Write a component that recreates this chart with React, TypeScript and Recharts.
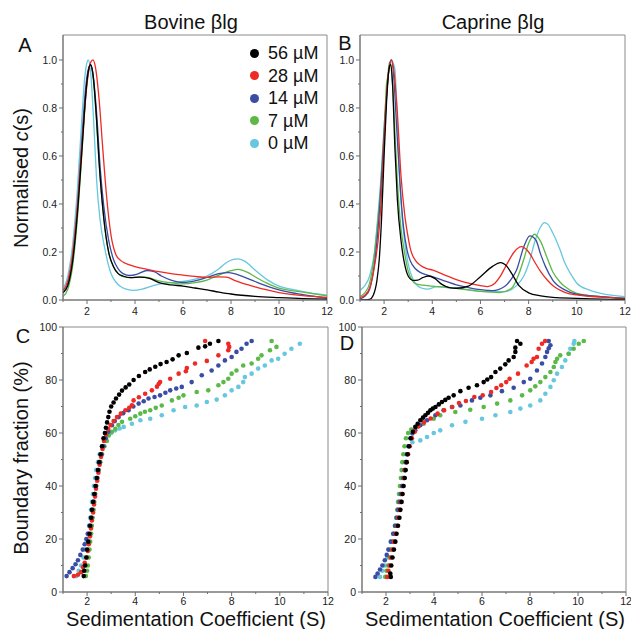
import React from "react";
import { LineChart, Line, ScatterChart, Scatter, XAxis, YAxis, ReferenceArea } from "recharts";

const FONT = "'Liberation Sans', Arial, Helvetica, sans-serif";
const AXIS = "#6e6e6e";
const FRAME = "#8a8a8a";

const concLabels = ["56 µM", "28 µM", "14 µM", "7 µM", "0 µM"];
const COLORS = ["#000000", "#ee2a24", "#3a4ca3", "#5cb947", "#66c7de"];

const sTicks = [1, 2, 3, 4, 5, 6, 7, 8, 9, 10, 11, 12];
const cTicks = [0, 0.1, 0.2, 0.3, 0.4, 0.5, 0.6, 0.7, 0.8, 0.9, 1.0];
const bTicks = [0, 10, 20, 30, 40, 50, 60, 70, 80, 90, 100];

type P = [number, number];

// Panel A: bovine c(s)
const bovine56: P[] = [[1,0.03],[1.2,0.06],[1.4,0.16],[1.6,0.36],[1.8,0.64],[1.95,0.86],[2.05,0.95],[2.15,0.98],[2.25,0.94],[2.4,0.75],[2.5,0.58],[2.7,0.34],[2.9,0.2],[3.1,0.14],[3.3,0.11],[3.5,0.1],[3.8,0.093],[4.2,0.095],[4.6,0.09],[5,0.072],[5.5,0.063],[6,0.058],[6.5,0.05],[7,0.042],[7.5,0.033],[8,0.025],[9,0.015],[10,0.01],[11,0.006],[12,0.004]];
const bovine28: P[] = [[1,0.04],[1.2,0.08],[1.4,0.19],[1.6,0.39],[1.8,0.66],[2.0,0.9],[2.15,0.99],[2.25,1.0],[2.35,0.97],[2.5,0.84],[2.65,0.64],[2.8,0.45],[3.0,0.27],[3.2,0.19],[3.4,0.165],[3.6,0.153],[3.8,0.145],[4.0,0.139],[4.5,0.128],[5,0.118],[5.5,0.11],[6,0.104],[6.5,0.098],[7,0.094],[7.5,0.096],[7.8,0.095],[8.2,0.08],[8.6,0.066],[9,0.055],[9.5,0.042],[10,0.031],[11,0.018],[12,0.011]];
const bovine14: P[] = [[1,0.03],[1.2,0.07],[1.4,0.18],[1.6,0.39],[1.8,0.69],[1.95,0.89],[2.05,0.96],[2.15,0.98],[2.25,0.94],[2.4,0.78],[2.55,0.55],[2.7,0.39],[2.9,0.25],[3.1,0.17],[3.3,0.13],[3.5,0.11],[3.8,0.102],[4.1,0.108],[4.5,0.123],[4.8,0.118],[5.1,0.1],[5.5,0.083],[6,0.073],[6.5,0.08],[7,0.094],[7.5,0.11],[7.9,0.114],[8.5,0.097],[9,0.077],[9.5,0.058],[10,0.042],[11,0.022],[12,0.008]];
const bovine7: P[] = [[1,0.015],[1.2,0.045],[1.4,0.14],[1.6,0.34],[1.8,0.63],[1.95,0.85],[2.05,0.95],[2.15,0.98],[2.25,0.93],[2.4,0.74],[2.5,0.58],[2.7,0.34],[2.9,0.2],[3.1,0.14],[3.3,0.11],[3.5,0.097],[3.8,0.093],[4.2,0.096],[4.5,0.094],[5,0.08],[5.5,0.072],[6,0.067],[6.5,0.072],[7,0.083],[7.5,0.104],[8,0.122],[8.3,0.128],[8.7,0.115],[9,0.097],[9.5,0.07],[10,0.049],[11,0.033],[12,0.017]];
const bovine0: P[] = [[1,0.045],[1.2,0.1],[1.4,0.23],[1.6,0.46],[1.8,0.78],[1.9,0.92],[2.0,0.99],[2.05,1.0],[2.15,0.95],[2.3,0.7],[2.4,0.5],[2.55,0.33],[2.75,0.21],[3.0,0.11],[3.2,0.075],[3.4,0.056],[3.6,0.046],[3.9,0.04],[4.3,0.045],[4.7,0.058],[5,0.066],[5.5,0.072],[6,0.077],[6.5,0.087],[7,0.1],[7.5,0.13],[7.8,0.155],[8.1,0.169],[8.3,0.171],[8.6,0.16],[9,0.125],[9.5,0.085],[10,0.058],[10.5,0.045],[11,0.035],[12,0.02]];

// Panel B: caprine c(s)
const caprine56: P[] = [[1,0],[1.4,0.003],[1.55,0.02],[1.7,0.08],[1.8,0.17],[1.9,0.35],[2.0,0.6],[2.1,0.82],[2.2,0.96],[2.27,0.98],[2.35,0.9],[2.45,0.63],[2.55,0.42],[2.7,0.25],[2.85,0.15],[3.0,0.1],[3.2,0.082],[3.4,0.083],[3.6,0.093],[3.85,0.1],[4.1,0.09],[4.4,0.065],[4.7,0.052],[5,0.049],[5.5,0.058],[6,0.097],[6.5,0.14],[6.83,0.156],[7.1,0.14],[7.3,0.11],[7.6,0.06],[8,0.03],[8.5,0.017],[9,0.011],[10,0.007],[11,0.004],[12,0.003]];
const caprine28: P[] = [[1,0.01],[1.2,0.02],[1.4,0.05],[1.6,0.14],[1.8,0.3],[1.9,0.46],[2.0,0.66],[2.1,0.85],[2.2,0.96],[2.3,1.0],[2.4,0.96],[2.55,0.78],[2.7,0.52],[2.85,0.36],[3.0,0.26],[3.1,0.21],[3.3,0.165],[3.5,0.145],[3.8,0.13],[4,0.125],[4.5,0.105],[5,0.085],[5.5,0.07],[6,0.06],[6.3,0.056],[6.6,0.07],[6.8,0.095],[7.1,0.15],[7.4,0.2],[7.7,0.222],[8,0.2],[8.3,0.15],[8.5,0.118],[8.8,0.08],[9,0.06],[9.5,0.032],[10,0.021],[11,0.012],[12,0.007]];
const caprine14: P[] = [[1,0.005],[1.2,0.015],[1.4,0.045],[1.6,0.15],[1.8,0.36],[1.95,0.6],[2.05,0.77],[2.15,0.91],[2.25,0.99],[2.3,1.0],[2.4,0.93],[2.5,0.76],[2.65,0.5],[2.8,0.31],[2.95,0.21],[3.1,0.16],[3.3,0.13],[3.5,0.115],[3.8,0.104],[4,0.097],[4.5,0.08],[5,0.063],[5.5,0.052],[6,0.043],[6.5,0.039],[7,0.056],[7.3,0.09],[7.5,0.125],[7.8,0.222],[8.05,0.267],[8.3,0.25],[8.5,0.19],[8.7,0.139],[9,0.083],[9.5,0.042],[10,0.024],[11,0.014],[12,0.007]];
const caprine7: P[] = [[1,0.015],[1.2,0.03],[1.4,0.07],[1.6,0.19],[1.75,0.34],[1.85,0.46],[1.95,0.62],[2.05,0.8],[2.1,0.9],[2.15,0.93],[2.22,0.99],[2.28,0.98],[2.35,0.9],[2.45,0.7],[2.55,0.5],[2.7,0.3],[2.83,0.21],[3.0,0.12],[3.15,0.085],[3.3,0.068],[3.6,0.062],[4,0.058],[5,0.049],[6,0.036],[6.8,0.031],[7.3,0.05],[7.6,0.11],[7.8,0.17],[8,0.236],[8.25,0.274],[8.5,0.243],[8.75,0.18],[9,0.118],[9.3,0.075],[9.5,0.056],[10,0.028],[11,0.014],[12,0.007]];
const caprine0: P[] = [[1,0.04],[1.2,0.06],[1.4,0.1],[1.6,0.2],[1.75,0.36],[1.85,0.48],[1.95,0.64],[2.05,0.8],[2.15,0.92],[2.25,0.99],[2.3,1.0],[2.4,0.98],[2.45,0.96],[2.55,0.75],[2.65,0.5],[2.75,0.34],[2.9,0.21],[3.0,0.15],[3.2,0.085],[3.4,0.058],[3.55,0.05],[3.8,0.045],[4.2,0.056],[4.6,0.052],[5,0.049],[6,0.036],[7,0.035],[7.5,0.06],[7.8,0.1],[8,0.15],[8.3,0.257],[8.5,0.305],[8.65,0.322],[8.8,0.315],[9,0.28],[9.3,0.21],[9.5,0.155],[9.8,0.1],[10,0.07],[10.5,0.042],[11,0.028],[12,0.014]];

// Panel C: bovine boundary fraction
const bovineBf56: P[] = [[1.86,6],[1.88,8],[1.92,10],[1.97,13],[2.0,16],[2.05,19],[2.1,22],[2.13,25],[2.17,28],[2.2,31],[2.25,34],[2.3,37],[2.35,40],[2.4,43],[2.45,46],[2.5,49],[2.56,52],[2.62,55],[2.68,58],[2.74,60],[2.78,62],[2.83,64],[2.88,66],[2.93,68],[3.0,70],[3.1,71.5],[3.2,73],[3.33,74.5],[3.45,76],[3.6,77.2],[3.75,78.3],[3.93,80],[4.15,81.5],[4.41,83],[4.6,84],[4.83,85],[5.05,86],[5.3,86.8],[5.55,87.8],[5.8,89.3],[6.14,90.2],[6.62,92.2],[6.9,92.7],[7.1,93.7],[7.45,94.7]];
const bovineBf28: P[] = [[1.45,6],[1.62,6.5],[1.75,7.5],[1.83,9.4],[1.9,11],[1.97,13],[2.03,15.5],[2.07,18],[2.12,21],[2.16,24],[2.2,27],[2.25,30],[2.29,33],[2.33,36],[2.37,39],[2.42,42],[2.47,45],[2.52,48],[2.58,51],[2.64,54],[2.7,57],[2.78,59.5],[2.88,61.5],[2.97,63],[3.1,64.5],[3.24,66],[3.4,67.3],[3.59,68.6],[3.75,69.5],[3.86,70.5],[3.93,72.3],[4.15,73.5],[4.41,74.8],[4.69,76.1],[4.9,77.5],[4.97,78.5],[5.03,79.2],[5.45,80.5],[5.8,82.4],[6.1,83.3],[6.14,84.5],[6.48,86.2],[6.97,87.2],[7.45,89.3],[7.86,91.2],[7.9,92.5],[7.86,93.7],[6.9,94.7]];
const bovineBf14: P[] = [[1.15,6],[1.27,7.5],[1.4,9],[1.52,10.5],[1.62,12],[1.72,14],[1.82,16],[1.9,18],[1.97,20],[2.03,22],[2.1,25],[2.17,28],[2.22,31],[2.27,34],[2.32,37],[2.37,40],[2.42,43],[2.47,46],[2.53,49],[2.6,52],[2.68,55],[2.77,58],[2.88,60.5],[3.03,62.9],[3.15,64.5],[3.31,66],[3.5,67.5],[3.72,68.6],[3.92,70],[4.14,71.1],[4.35,72],[4.55,73],[4.8,73.6],[5.03,74.2],[5.25,75.2],[5.45,76.1],[5.7,76.8],[5.93,77.4],[6.34,79.2],[6.76,81.8],[7.17,83.6],[7.45,85.5],[7.72,87.4],[8.0,88.7],[8.2,90.6],[8.41,91.8],[8.62,93.7],[8.83,94.7]];
const bovineBf7: P[] = [[1.95,6],[2.0,8],[2.03,10],[2.07,13],[2.1,16],[2.13,19],[2.17,22],[2.2,25],[2.23,28],[2.27,31],[2.3,34],[2.34,37],[2.38,40],[2.43,43],[2.48,46],[2.55,49],[2.62,52],[2.72,55],[2.82,57],[2.9,59.1],[3.03,60.5],[3.17,61.6],[3.3,63],[3.45,64.2],[3.79,65.4],[4.0,66.3],[4.21,67.3],[4.4,68],[4.62,68.6],[4.85,69.5],[5.1,70.4],[5.52,72.3],[5.8,73.3],[6.0,74.2],[6.55,75.5],[7.03,76.1],[7.45,78],[7.66,79.2],[7.86,80.5],[8.0,82.4],[8.2,83.6],[8.48,85.5],[8.83,86.2],[9.1,88],[9.24,89.3],[9.59,91.2],[9.86,92.5],[9.66,94.7]];
const bovineBf0: P[] = [[1.55,6],[1.65,8],[1.75,10],[1.85,13],[1.92,16],[1.98,19],[2.03,22],[2.08,25],[2.12,28],[2.16,31],[2.2,34],[2.24,37],[2.28,40],[2.33,43],[2.38,46],[2.45,49],[2.52,52],[2.62,55],[2.78,58],[3.0,60],[3.17,61],[3.35,61.7],[3.52,62.3],[3.86,63.5],[4.21,64.8],[4.62,65.4],[5.1,66.7],[5.59,68.6],[6.07,69.8],[6.55,70.4],[6.97,71.7],[7.38,72.6],[7.72,74.2],[8.0,76.1],[8.28,77.4],[8.48,79.2],[8.55,81.1],[8.83,82.4],[9.1,84.3],[9.38,85.5],[9.66,87.4],[9.93,88],[10.2,89.9],[10.48,91.8],[10.83,93.7]];

// Panel D: caprine boundary fraction
const caprineBf56: P[] = [[2.2,5.7],[2.18,7],[2.22,10],[2.27,13],[2.33,16],[2.39,19],[2.44,22],[2.5,25],[2.56,28],[2.6,31],[2.65,34],[2.69,37],[2.73,40],[2.78,43],[2.82,46],[2.86,49],[2.9,52],[2.96,55],[3.03,58],[3.12,60.5],[3.22,62.3],[3.32,63.5],[3.43,64.8],[3.54,65.8],[3.64,66.7],[3.75,67.6],[3.85,68.6],[3.95,69.2],[4.06,69.8],[4.2,70.8],[4.33,71.7],[4.47,72.5],[4.61,73.3],[4.82,74.2],[5.1,75.8],[5.44,77.1],[5.79,78],[6.07,79.2],[6.22,80.2],[6.38,81.1],[6.56,83],[6.76,84.3],[6.97,85.9],[7.11,87.4],[7.32,88.7],[7.39,90.6],[7.39,92.2],[7.6,93.7],[7.46,94.7]];
const caprineBf28: P[] = [[2.05,5.7],[2.1,8],[2.15,10],[2.2,13],[2.27,16],[2.33,19],[2.4,22],[2.47,25],[2.52,28],[2.57,31],[2.62,34],[2.67,37],[2.72,40],[2.76,43],[2.8,46],[2.86,49],[2.92,52],[2.99,55],[3.08,58],[3.2,60.5],[3.35,62.5],[3.58,64],[3.86,65.5],[4.15,67.3],[4.42,68.6],[4.76,69.8],[5.04,71.3],[5.33,72.1],[5.68,73.6],[6.03,74.2],[6.38,75.5],[6.6,77],[6.8,78],[7.01,79.2],[7.15,80.5],[7.5,82.4],[7.86,85.5],[8.07,86.8],[8.15,88],[8.29,88.7],[8.36,91.8],[8.5,93.7],[8.63,94.7]];
const caprineBf14: P[] = [[1.56,5.7],[1.65,7],[1.75,8.5],[1.85,10],[1.95,12],[2.03,14],[2.1,16],[2.2,19],[2.3,22],[2.38,25],[2.45,28],[2.5,31],[2.56,34],[2.62,37],[2.67,40],[2.72,43],[2.77,46],[2.82,49],[2.87,52],[2.94,55],[3.02,58],[3.1,59.8],[3.22,61],[3.43,62.9],[3.71,64.8],[4.06,66.7],[4.4,68.6],[4.75,69.8],[5.1,70.4],[5.58,72.3],[5.93,73.3],[6.35,74.2],[6.83,75.8],[7.32,77.1],[7.74,79.2],[8.01,80.5],[8.29,83.6],[8.5,86.2],[8.64,88.7],[8.71,90.6],[8.78,92],[8.85,93.1],[8.78,94.7]];
const caprineBf7: P[] = [[1.97,5.7],[2.02,8],[2.08,10],[2.15,13],[2.2,16],[2.27,19],[2.33,22],[2.38,25],[2.43,28],[2.47,31],[2.5,34],[2.54,37],[2.58,40],[2.62,43],[2.65,46],[2.68,49],[2.72,52],[2.77,55],[2.83,58],[2.92,60],[3.05,61.3],[3.29,62.5],[3.57,63.5],[3.99,65.4],[4.26,66.7],[4.89,67.9],[5.51,68.8],[6.07,69.8],[6.63,71.1],[7.18,72.3],[7.67,74.2],[8.01,76.1],[8.22,77.6],[8.43,79.2],[8.64,81.1],[8.85,83],[8.99,84.9],[9.06,86.8],[9.13,88],[9.26,89.3],[9.61,89.9],[9.82,91.8],[10.03,93.7],[10.24,94.7]];
const caprineBf0: P[] = [[1.75,5.7],[1.85,8],[1.95,10],[2.05,13],[2.13,16],[2.22,19],[2.3,22],[2.37,25],[2.43,28],[2.49,31],[2.54,34],[2.6,37],[2.65,40],[2.7,43],[2.75,46],[2.8,49],[2.86,52],[2.93,55],[3.1,56.5],[3.43,57.2],[3.71,58.5],[3.99,60],[4.26,61],[4.75,62.9],[5.31,64.2],[6.0,65.4],[6.56,66.7],[7.18,67.9],[7.6,69.2],[8.01,70.4],[8.43,72.3],[8.64,74.8],[8.85,77.4],[8.99,79.9],[9.13,82.4],[9.33,84.9],[9.47,87.4],[9.61,89.9],[9.68,91.8],[9.82,93.7],[9.85,94.7]];

const toPts = (a: P[]) => a.map(([x, y]) => ({ x, y }));

const csA = [bovine56, bovine28, bovine14, bovine7, bovine0];
const csB = [caprine56, caprine28, caprine14, caprine7, caprine0];
const bfC = [bovineBf56, bovineBf28, bovineBf14, bovineBf7, bovineBf0];
const bfD = [caprineBf56, caprineBf28, caprineBf14, caprineBf7, caprineBf0];

const drawOrder = [4, 3, 2, 1, 0];

function makeXTick(labelOffset: number) {
  return (props: any) => {
    const { x, y, payload } = props;
    const v = payload.value;
    const major = v % 2 === 0;
    return (
      <g>
        <line x1={x} x2={x} y1={y} y2={y + (major ? 4 : 2)} stroke={AXIS} />
        {major && (
          <text x={x} y={y + labelOffset} textAnchor="middle" fontSize={10.5} fill="#222" fontFamily={FONT}>{v}</text>
        )}
      </g>
    );
  };
}

function makeYTick(isMajor: (v: number) => boolean, fmt: (v: number) => string) {
  return (props: any) => {
    const { x, y, payload } = props;
    const v = payload.value;
    const major = isMajor(v);
    return (
      <g>
        <line x1={x - (major ? 4 : 2)} x2={x} y1={y} y2={y} stroke={AXIS} />
        {major && (
          <text x={x - 6} y={y + 3.8} textAnchor="end" fontSize={10.5} fill="#222" fontFamily={FONT}>{fmt(v)}</text>
        )}
      </g>
    );
  };
}

const topXTick = makeXTick(15);
const bottomXTick = makeXTick(13);
const csTick = makeYTick((v) => Math.round(v * 10) % 2 === 0, (v) => v.toFixed(1));
const bfTick = makeYTick((v) => v % 20 === 0, (v) => String(v));

function CsPanel({ series, width, margin }: { series: P[][]; width: number; margin: any }) {
  return (
    <LineChart width={width} height={325} margin={margin}>
      <XAxis type="number" dataKey="x" domain={[1, 12]} ticks={sTicks} interval={0} allowDataOverflow
        tick={topXTick} tickSize={0} tickMargin={0} tickLine={false} height={20} stroke={AXIS} />
      <YAxis type="number" dataKey="y" domain={[0, 1.104]} ticks={cTicks} interval={0} allowDataOverflow
        tick={csTick} tickSize={0} tickMargin={0} tickLine={false} width={30} stroke={AXIS} />
      <ReferenceArea x1={1} x2={12} y1={0} y2={1.104} fill="none" stroke={FRAME} strokeWidth={1} />
      {drawOrder.map((i) => (
        <Line key={i} data={toPts(series[i])} dataKey="y" type="monotone" stroke={COLORS[i]}
          strokeWidth={1.3} dot={false} isAnimationActive={false} />
      ))}
    </LineChart>
  );
}

function BfPanel({ series, width, margin }: { series: P[][]; width: number; margin: any }) {
  return (
    <ScatterChart width={width} height={312} margin={margin}>
      <XAxis type="number" dataKey="x" domain={[1, 12]} ticks={sTicks} interval={0} allowDataOverflow
        tick={bottomXTick} tickSize={0} tickMargin={0} tickLine={false} height={20} stroke={AXIS} />
      <YAxis type="number" dataKey="y" domain={[0, 100]} ticks={bTicks} interval={0} allowDataOverflow
        tick={bfTick} tickSize={0} tickMargin={0} tickLine={false} width={30} stroke={AXIS} />
      <ReferenceArea x1={1} x2={12} y1={0} y2={100} fill="none" stroke={FRAME} strokeWidth={1} />
      {drawOrder.map((i) => (
        <Scatter key={i} data={toPts(series[i])} fill={COLORS[i]} isAnimationActive={false}
          shape={(p: any) => <circle cx={p.cx} cy={p.cy} r={2.3} fill={COLORS[i]} />} />
      ))}
    </ScatterChart>
  );
}

const txt: React.CSSProperties = { position: "absolute", fontFamily: FONT, color: "#111", whiteSpace: "nowrap", lineHeight: 1 };

function Centered({ x, y, size, children }: { x: number; y: number; size: number; children: React.ReactNode }) {
  return (
    <div style={{ ...txt, left: x, top: y, fontSize: size, transform: "translate(-50%, -50%)" }}>
      {children}
    </div>
  );
}

export default function App() {
  return (
    <div style={{ position: "absolute", left: 0, top: 0, width: 631, height: 629, background: "#fff", overflow: "hidden" }}>
      <div style={{ position: "absolute", left: 0, top: 0 }}>
        <CsPanel series={csA} width={335} margin={{ top: 35, right: 8, left: 33, bottom: 5 }} />
      </div>
      <div style={{ position: "absolute", left: 330, top: 0 }}>
        <CsPanel series={csB} width={301} margin={{ top: 35, right: 6, left: 0, bottom: 5 }} />
      </div>
      <div style={{ position: "absolute", left: 0, top: 300 }}>
        <BfPanel series={bfC} width={335} margin={{ top: 27, right: 7, left: 33, bottom: 0 }} />
      </div>
      <div style={{ position: "absolute", left: 330, top: 300 }}>
        <BfPanel series={bfD} width={301} margin={{ top: 27, right: 5, left: 2, bottom: 0 }} />
      </div>

      <Centered x={191} y={22} size={20}>Bovine βlg</Centered>
      <Centered x={493} y={22} size={20}>Caprine βlg</Centered>
      <Centered x={25} y={45} size={20}>A</Centered>
      <Centered x={345} y={43} size={20}>B</Centered>
      <Centered x={23} y={336} size={20}>C</Centered>
      <Centered x={347} y={343} size={20}>D</Centered>
      <Centered x={21} y={178} size={20}>
        <span style={{ display: "inline-block", transform: "rotate(-90deg)" }}>Normalised <i>c</i>(s)</span>
      </Centered>
      <Centered x={21} y={458} size={20}>
        <span style={{ display: "inline-block", transform: "rotate(-90deg)" }}>Boundary fraction (%)</span>
      </Centered>
      <Centered x={196} y={619} size={20}>Sedimentation Coefficient (S)</Centered>
      <Centered x={495} y={619} size={20}>Sedimentation Coefficient (S)</Centered>

      {concLabels.map((label, i) => (
        <div key={label} style={{ position: "absolute", left: 250, top: 53 + i * 22.5 - 10, height: 20, display: "flex", alignItems: "center" }}>
          <span style={{ width: 9, height: 9, borderRadius: "50%", background: COLORS[i], display: "inline-block" }} />
          <span style={{ fontFamily: FONT, fontSize: 18, color: "#111", marginLeft: 9, lineHeight: 1 }}>{label}</span>
        </div>
      ))}
    </div>
  );
}
